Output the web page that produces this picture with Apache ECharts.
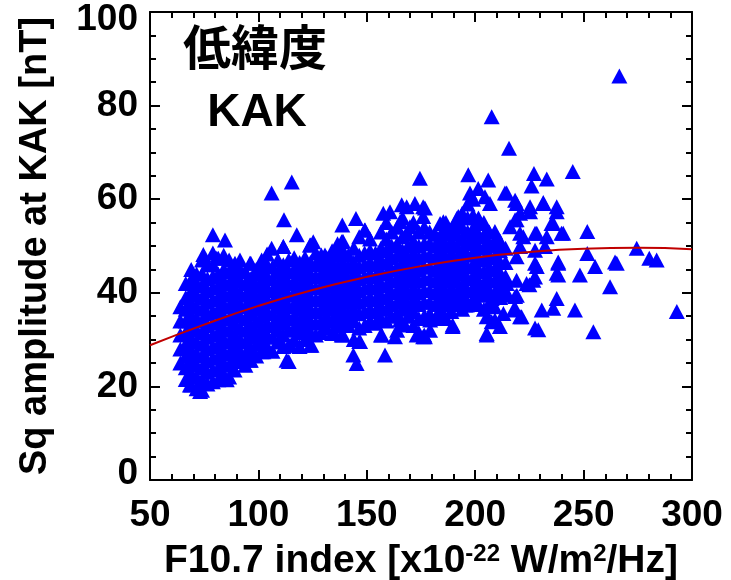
<!DOCTYPE html>
<html>
<head>
<meta charset="utf-8">
<script src="https://cdn.jsdelivr.net/npm/echarts@6/dist/echarts.min.js"></script>
<style>
  html, body { margin: 0; padding: 0; background: #fff; }
  #chart { width: 731px; height: 580px; }
</style>
</head>
<body>
<div id="chart"></div>
<script>
// x ticks / y ticks
const xTicks = [50, 100, 150, 200, 250, 300];
const yTicks = [0, 20, 40, 60, 80, 100];

// dense cloud, read column by column: [F10.7, Sq values...]
const cloudColumns = [
  [64, 25, 28, 31, 34, 37],
  [66.5, 21.5, 24, 26.5, 29, 31.5, 34, 36.5, 39, 42],
  [69, 20.3, 22.8, 25.3, 27.8, 30.3, 32.8, 35.3, 37.8, 40.3, 42.8, 45],
  [71.5, 19.5, 22, 24.5, 27, 29.5, 32, 34.5, 37, 39.5, 42, 44],
  [74, 19.2, 21.5, 24, 26.5, 29, 31.5, 34, 36.5, 39, 41.5, 44, 47],
  [76.5, 20.5, 23, 25.5, 28, 30.5, 33, 35.5, 38, 40.5, 43, 46],
  [79, 21, 23.5, 26, 28.5, 31, 33.5, 36, 38.5, 41, 43.5, 46, 48.5],
  [81.5, 21.4, 24, 26.5, 29, 31.5, 34, 36.5, 39, 41.5, 44, 47.4],
  [84, 22.5, 25, 27.5, 30, 32.5, 35, 37.5, 40, 42.5, 45, 48],
  [86.5, 22, 24.5, 27, 29.5, 32, 34.5, 37, 39.5, 42, 44.5, 47],
  [89, 23.5, 26, 28.5, 31, 33.5, 36, 38.5, 41, 43.5, 46],
  [91.5, 25.3, 27.5, 30, 32.5, 35, 37.5, 40, 42.5, 45, 47],
  [94, 24.5, 27, 29.5, 32, 34.5, 37, 39.5, 42, 44.5],
  [96.5, 25.6, 28, 30.5, 33, 35.5, 38, 40.5, 43, 46.3],
  [99, 26.5, 29, 31.5, 34, 36.5, 39, 41.5, 44, 45],
  [101.5, 27.4, 30, 32.5, 35, 37.5, 40, 42.5, 45, 47],
  [104, 28.5, 31, 33.5, 36, 38.5, 41, 43.5, 46, 48.3],
  [106.5, 27.5, 30.5, 33, 35.5, 38, 40.5, 43, 45.5],
  [109, 29.5, 32, 34.5, 37, 39.5, 42, 44.5, 47],
  [111.5, 28.5, 31, 33.5, 36, 38.5, 41, 43.5, 46, 49.9],
  [114, 25.3, 28.8, 32, 34.5, 37, 39.5, 42, 44.5, 47],
  [116.5, 30, 32.5, 35, 37.5, 40, 42.5, 45, 47.5],
  [119, 28.5, 31.5, 34, 36.5, 39, 41.5, 44, 46.5],
  [121.5, 30, 32.5, 35, 37.5, 40, 42.5, 45, 47.5],
  [124, 28.8, 31.5, 34, 36.5, 39, 41.5, 44, 46.5, 50.2],
  [126.5, 31, 33.5, 36, 38.5, 41, 43.5, 46, 48.5],
  [129, 31.5, 34, 36.5, 39, 41.5, 44, 46.5, 48.1],
  [131.5, 32.5, 35, 37.5, 40, 42.5, 45, 47.5],
  [134, 31.3, 34, 36.5, 39, 41.5, 44, 46.5, 49],
  [136.5, 33, 35.5, 38, 40.5, 43, 45.5, 48, 50.5],
  [139, 31, 34, 36.5, 39, 41.5, 44, 46.5, 49, 51],
  [141.5, 33, 35.5, 38, 40.5, 43, 45.5, 48],
  [144, 30, 34, 36.5, 39, 41.5, 44, 46.5, 49.5],
  [146.5, 29.6, 32.5, 35.5, 38, 40.5, 43, 45.5, 48, 52],
  [149, 33, 36, 38.5, 41, 43.5, 46, 48.5, 53.4],
  [151.5, 34, 36.5, 39, 41.5, 44, 46.5, 49, 51.5],
  [154, 33.5, 36, 38.5, 41, 43.5, 46, 48.5],
  [156.5, 31, 34.5, 37, 39.5, 42, 44.5, 47, 49.5, 53],
  [159, 34, 36.5, 39, 41.5, 44, 46.5, 49, 51.5, 55],
  [161.5, 35, 37.5, 40, 42.5, 45, 47.5, 50, 53],
  [164, 32, 35.5, 38, 40.5, 43, 45.5, 48, 50.5, 54],
  [166.5, 33.5, 36.5, 39, 41.5, 44, 46.5, 49, 52, 56],
  [169, 35, 37.5, 40, 42.5, 45, 47.5, 50, 52.5],
  [171.5, 33, 36, 38.5, 41, 43.5, 46, 48.5, 51, 55],
  [174, 31.5, 34.5, 37.5, 40, 42.5, 45, 47.5, 50, 53],
  [176.5, 31, 35, 38, 40.5, 43, 45.5, 48, 50.5, 54],
  [179, 35.5, 38, 40.5, 43, 45.5, 48, 50.5, 53],
  [181.5, 34.5, 37.5, 40, 42.5, 45, 47.5, 50, 52.5],
  [184, 36.5, 39, 41.5, 44, 46.5, 49, 51.5],
  [186.5, 34.5, 37.5, 40, 42.5, 45, 47.5, 50, 52.5, 55],
  [189, 36, 38.5, 41, 43.5, 46, 48.5, 51, 53.5],
  [191.5, 37.5, 40, 42.5, 45, 47.5, 50, 52.5, 55],
  [194, 36.5, 39, 41.5, 44, 46.5, 49, 51.5, 54, 57],
  [196.5, 38, 40.5, 43, 45.5, 48, 50.5, 53, 56, 59],
  [199, 38.5, 41, 43.5, 46, 48.5, 51, 53.5, 56.5, 60],
  [201.5, 37.5, 40, 42.5, 45, 47.5, 50, 52.5, 56],
  [204, 36.5, 39.5, 42, 44.5, 47, 49.5, 52, 55],
  [206.5, 37.5, 40.5, 43, 45.5, 48, 50.5, 53],
  [209, 37, 40, 42.5, 45, 47.5, 50],
  [211.5, 39, 41.5, 44, 46.5, 49, 51],
  [214, 40.5, 43.5, 46.5, 49.5]
];

// scattered points around the cloud
const sparsePoints = [
  [79, 52.4], [84.6, 51.3], [74.6, 48.2], [80.8, 47.4], [89.2, 46.3], [96.1, 46.3],
  [106.1, 61.3], [115.4, 63.7], [111.8, 55.6], [117.7, 52.4], [125.3, 50.9], [123.8, 50.2],
  [106.1, 49.5], [111.5, 49.9], [130.7, 48.1],
  [138.7, 54.5], [145, 55.9], [149.2, 53.4], [138.4, 50.9], [157.6, 57], [160.7, 57.3],
  [166.1, 58.8], [168.4, 58.4], [172.2, 59.1], [176.8, 58.1], [176, 56.3], [165.3, 55.2],
  [169.9, 54.1], [185.3, 55.2], [191.5, 55.9], [200.7, 55.2], [209.1, 53.1],
  [174.5, 64.5], [196.8, 65.2], [206, 64.1], [197.6, 61.3], [201.4, 62.3], [204.5, 60.5],
  [206.8, 59.1], [213.7, 61.3], [207.6, 77.6], [215.6, 70.9], [192.2, 56.3], [183.8, 54.8],
  [185.3, 53.4], [176, 58.4],
  [214.5, 61.3], [219.1, 59.1], [220.7, 57], [219.1, 55.6], [216.1, 54.1], [225.3, 57.3],
  [227.6, 52.7], [222.2, 52], [231.4, 59.1], [237.6, 57.3], [235.2, 54.8], [239.8, 52.7],
  [232.2, 49.9], [227.6, 49.1], [220.7, 49.9], [219.1, 47.7], [238.3, 46.6], [237.6, 44.2],
  [228.4, 45.6], [227.6, 43.4], [223.7, 42], [219.1, 42.7], [214.5, 42], [218.4, 39.2],
  [220.7, 34.9], [217.6, 36.3], [213.7, 39.9], [210.7, 49.1], [209.9, 52], [205.3, 53.4],
  [201.4, 54.8], [197.6, 50.6], [203.7, 40.6], [207.6, 38.8], [205.3, 34.9], [207.6, 33.8],
  [205.3, 31.3], [211.4, 43.4], [209.9, 45.6],
  [227.1, 65.5], [233, 64.3], [226, 62.8], [245, 65.9], [218.4, 59.8], [231.4, 59.3],
  [237.6, 58.4], [225.3, 58.4], [218.4, 55.6], [228.4, 52.7], [233, 52], [220.7, 52.7],
  [240.6, 52.7], [236, 54.8],
  [251.7, 53.1], [274.5, 49.5], [280.3, 47.4], [283.7, 47.0], [265.3, 46.3], [251.7, 48.4],
  [255.3, 45.6], [248.3, 43.8], [262.2, 41.3], [293, 36.0], [254.5, 31.7], [246, 36.3],
  [238.3, 46.3], [238.3, 43.8], [237.6, 38.8], [236, 36.7], [230.7, 36.3], [229.1, 32.1],
  [227.6, 32.5], [221.4, 34.9], [218.4, 36.7], [213, 35.6], [227.6, 46.3], [226.8, 42.7],
  [225, 41.7], [219.2, 39.5], [213.7, 40.2], [211.4, 32.8], [266.5, 86.3], [264.5, 46.6],
  [189.6, 33.1], [179.2, 32], [176.8, 30.6], [196.1, 37.4], [189.9, 39.2], [183, 35.6],
  [135.3, 31.3], [138.4, 31], [143.8, 26.7], [145.3, 24.9], [146.9, 29.6], [158.4, 26.7],
  [156.9, 31], [163, 30.6], [173, 31], [176, 30.6], [167.6, 33.1], [179.2, 34.2],
  [189.6, 32.8], [205.3, 31], [189.6, 38.8], [195.3, 37.4], [184.5, 35.3], [209.1, 34.2],
  [213, 39.5], [165.3, 34.2],
  [73.1, 18.9], [68.4, 20.3], [85.4, 21.4], [96.1, 25.6], [91.5, 25.3], [102.3, 27.4],
  [113, 25.6], [124.5, 28.8], [114.6, 28.8]
];

// red fit curve
const fitX = [50, 75, 100, 125, 150, 175, 200, 225, 250, 275, 300];
const fitY = [28.8, 33.2, 37.2, 40.6, 43.4, 45.7, 47.5, 48.7, 49.4, 49.6, 49.3];

const cloudPoints = cloudColumns.flatMap(c => c.slice(1).map(y => [c[0], y]));
const scatterData = cloudPoints.concat(sparsePoints);
const fitData = fitX.map((x, i) => [x, fitY[i]]);

const font = "'Liberation Sans', Arial, sans-serif";
const black = '#000';

const tickStyle = { show: true, inside: true, length: 10, lineStyle: { color: black, width: 2 } };
const minorStyle = { show: true, length: 6, lineStyle: { color: black, width: 2 } };
const lineStyle = { show: true, onZero: false, lineStyle: { color: black, width: 2 } };

const chart = echarts.init(document.getElementById('chart'));

const option = {
  animation: false,
  backgroundColor: '#fff',
  grid: { left: 150, right: 39, top: 12, bottom: 100, outerBoundsMode: 'none', containLabel: false },
  graphic: [
    {
      type: 'text',
      style: {
        text: '低緯度', align: 'center', verticalAlign: 'middle',
        font: "bold 48px 'Noto Sans CJK JP'", fill: black
      },
      x: 255, y: 47
    },
    {
      type: 'text',
      style: {
        text: 'KAK', align: 'center', verticalAlign: 'middle',
        font: "bold 46px " + font, fill: black
      },
      x: 257, y: 113
    }
  ],
  xAxis: [
    {
      type: 'value', position: 'bottom',
      min: xTicks[0], max: xTicks[xTicks.length - 1], interval: 50,
      axisLine: lineStyle, axisTick: tickStyle,
      minorTick: Object.assign({ splitNumber: 5 }, minorStyle),
      splitLine: { show: false },
      axisLabel: { color: black, fontFamily: font, fontWeight: 'bold', fontSize: 37, margin: 17 },
      name: '{n|F10.7 index [x10}{s|-22}{n| W/m}{s|2}{n|/Hz]}',
      nameLocation: 'middle', nameGap: 62,
      nameTextStyle: {
        rich: {
          n: { fontFamily: font, fontWeight: 'bold', fontSize: 39, color: black },
          s: { fontFamily: font, fontWeight: 'bold', fontSize: 24, color: black, verticalAlign: 'top' }
        }
      }
    },
    {
      type: 'value', position: 'top',
      min: xTicks[0], max: xTicks[xTicks.length - 1], interval: 50,
      axisLine: lineStyle, axisTick: tickStyle,
      minorTick: Object.assign({ splitNumber: 5 }, minorStyle),
      splitLine: { show: false },
      axisLabel: { show: false }
    }
  ],
  yAxis: [
    {
      type: 'value', position: 'left',
      min: yTicks[0], max: yTicks[yTicks.length - 1], interval: 20,
      axisLine: lineStyle, axisTick: tickStyle,
      minorTick: Object.assign({ splitNumber: 4 }, minorStyle),
      splitLine: { show: false },
      axisLabel: {
        margin: 12,
        formatter: v => v === 0 ? '{lo|0}' : v === 100 ? '{hi|100}' : '{n|' + v + '}',
        rich: {
          n: { fontFamily: font, fontWeight: 'bold', fontSize: 37, color: black },
          lo: { fontFamily: font, fontWeight: 'bold', fontSize: 37, color: black, padding: [0, 0, 12, 0] },
          hi: { fontFamily: font, fontWeight: 'bold', fontSize: 37, color: black, padding: [16, 0, 0, 0] }
        }
      },
      name: 'Sq amplitude at KAK [nT]',
      nameLocation: 'middle', nameGap: 95,
      nameTextStyle: { fontFamily: font, fontWeight: 'bold', fontSize: 38, color: black }
    },
    {
      type: 'value', position: 'right',
      min: yTicks[0], max: yTicks[yTicks.length - 1], interval: 20,
      axisLine: lineStyle, axisTick: tickStyle,
      minorTick: Object.assign({ splitNumber: 4 }, minorStyle),
      splitLine: { show: false },
      axisLabel: { show: false }
    }
  ],
  series: [
    {
      type: 'scatter',
      data: scatterData,
      symbol: 'triangle',
      symbolSize: [16, 15],
      itemStyle: { color: '#0000ff', opacity: 1 },
      z: 2
    },
    {
      type: 'line',
      data: fitData,
      smooth: true,
      showSymbol: false,
      lineStyle: { color: '#c00000', width: 2 },
      z: 3
    }
  ]
};

chart.setOption(option);
</script>
</body>
</html>
